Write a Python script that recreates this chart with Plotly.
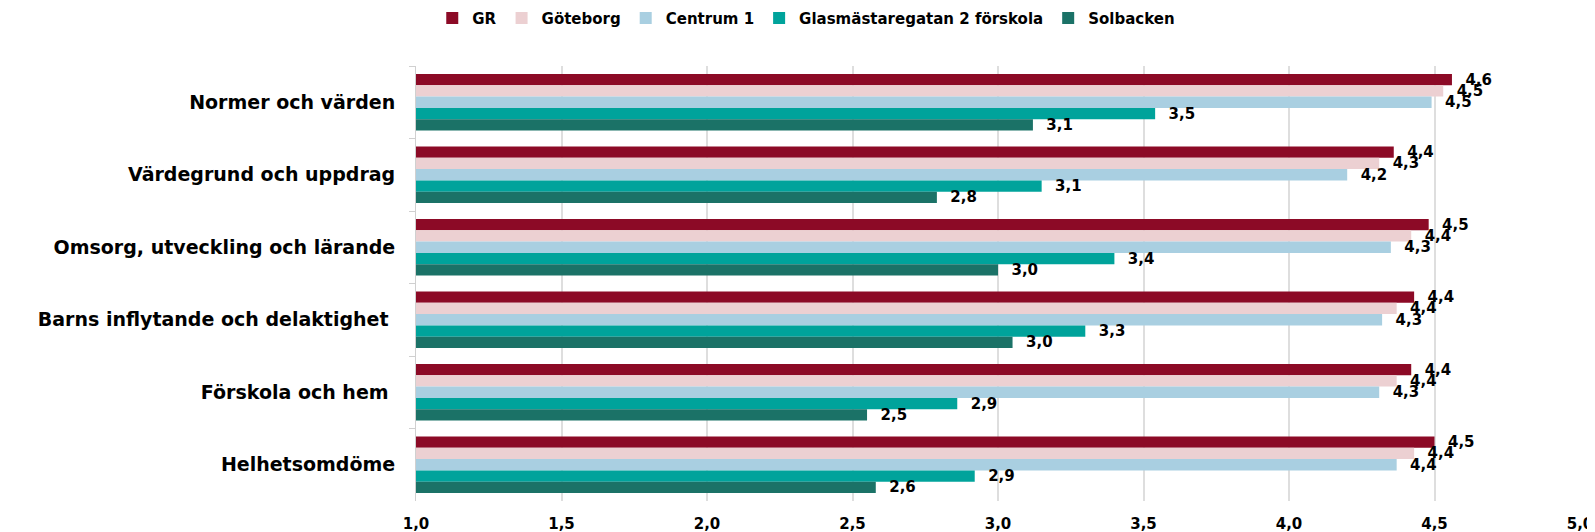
import plotly.graph_objects as go

categories = [
    "Normer och värden",
    "Värdegrund och uppdrag",
    "Omsorg, utveckling och lärande",
    "Barns inflytande och delaktighet ",
    "Förskola och hem ",
    "Helhetsomdöme",
]

series_names = ["GR", "Göteborg", "Centrum 1", "Glasmästaregatan 2 förskola", "Solbacken"]

gr = [4.56, 4.36, 4.48, 4.43, 4.42, 4.50]
goteborg = [4.53, 4.31, 4.42, 4.37, 4.37, 4.43]
centrum1 = [4.49, 4.20, 4.35, 4.32, 4.31, 4.37]
glasmastaregatan = [3.54, 3.15, 3.40, 3.30, 2.86, 2.92]
solbacken = [3.12, 2.79, 3.00, 3.05, 2.55, 2.58]

x_ticks = [1.0, 1.5, 2.0, 2.5, 3.0, 3.5, 4.0, 4.5, 5.0]

colors = ["#8C0A26", "#ECD0D2", "#A9CFE1", "#00A39B", "#1B7267"]
values = [gr, goteborg, centrum1, glasmastaregatan, solbacken]

FONT = "DejaVu Sans"

fig = go.Figure()
for name, vals, col in zip(series_names, values, colors):
    fig.add_trace(go.Bar(
        y=categories,
        x=vals,
        name=name,
        orientation="h",
        marker=dict(color=col, line=dict(width=0)),
        texttemplate="\u00a0\u00a0%{x:.1f}",
        textposition="outside",
        textangle=0,
        constraintext="none",
        cliponaxis=False,
        textfont=dict(family=FONT, size=15, color="#000000", weight="bold"),
    ))

# The page body adds an 8px offset; the figure is sized so the plot area lands
# where the reference has it.
fig.update_layout(
    width=1587,
    height=524,
    barmode="group",
    bargap=0.22,
    bargroupgap=0,
    separators=", ",
    paper_bgcolor="white",
    plot_bgcolor="white",
    margin=dict(l=408, r=15, t=58, b=31, autoexpand=False),
    font=dict(family=FONT, size=15, color="#000000"),
    legend=dict(
        orientation="h",
        xref="container",
        yref="paper",
        x=0.503,
        xanchor="center",
        y=1.11,
        yanchor="middle",
        font=dict(family=FONT, size=15, color="#000000", weight="bold"),
        itemwidth=30,
        traceorder="normal",
        bgcolor="rgba(0,0,0,0)",
    ),
    showlegend=True,
)

fig.update_xaxes(
    range=[1, 5],
    tickvals=x_ticks,
    tickformat=".1f",
    showgrid=True,
    gridcolor="#DEDEDE",
    gridwidth=2,
    zeroline=False,
    showline=False,
    ticks="",
    automargin=False,
    ticklabelstandoff=12,
    tickfont=dict(family=FONT, size=15, color="#000000", weight="bold"),
)

fig.update_yaxes(
    autorange="reversed",
    type="category",
    tickson="boundaries",
    ticks="outside",
    ticklen=6,
    tickcolor="#D0D0D0",
    showline=True,
    linecolor="#D0D0D0",
    linewidth=1,
    showgrid=False,
    automargin=False,
    ticklabelstandoff=16,
    tickfont=dict(family=FONT, size=19, color="#000000", weight="bold"),
)

fig.write_html("out.html")
